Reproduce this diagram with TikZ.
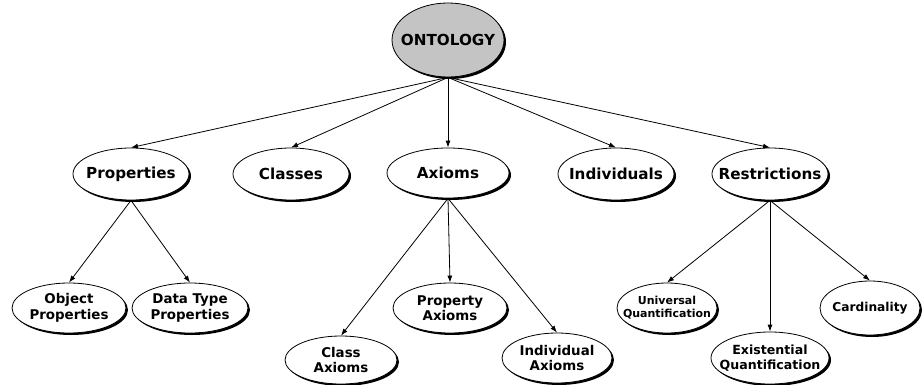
\documentclass[tikz,border=0pt]{standalone}
\usepackage{fontspec}
\setmainfont{DejaVu Sans}
\usetikzlibrary{shapes.geometric,shadows,arrows.meta}

\tikzset{
  concept/.style={ellipse, draw=black, line width=0.8pt, fill=white,
    inner sep=-30pt, align=center, font=\bfseries,
    drop shadow={shadow xshift=2pt, shadow yshift=-2pt, fill=black, opacity=1}},
  ell/.style 2 args={minimum width=#1pt, minimum height=#2pt},
  big/.style={font=\bfseries\fontsize{15.2}{18}\selectfont},
  mid/.style={font=\bfseries\fontsize{13.4}{15.5}\selectfont},
  card/.style={font=\bfseries\fontsize{12.2}{15}\selectfont},
  small/.style={font=\bfseries\fontsize{12.6}{14.5}\selectfont},
  tiny/.style={font=\bfseries\fontsize{11}{13}\selectfont},
  link/.style={draw=black, line width=0.8pt, -{Latex[length=7pt,width=5pt]}}
}

\begin{document}
\begin{tikzpicture}[x=1pt, y=-1pt]
  \useasboundingbox (0,0) rectangle (923,385);

  % root
  \node[concept, ell={112}{74}, big, fill={rgb,255:red,196;green,196;blue,196}] (onto) at (448,40) {ONTOLOGY};

  % second level
  \node[concept, ell={116}{52}, big] (prop) at (131,174) {Properties};
  \node[concept, ell={116}{52}, big] (cls)  at (291,174) {Classes};
  \node[concept, ell={122}{50}, big] (axi)  at (448,173) {Axioms};
  \node[concept, ell={116}{52}, big] (ind)  at (616,174) {Individuals};
  \node[concept, ell={116}{52}, big] (res)  at (770,174) {Restrictions};

  % third level
  \node[concept, ell={114}{50}, mid] (objp)   at (69,308)  {Object\\Properties};
  \node[concept, ell={116}{50}, mid] (dtp)    at (190,308) {Data Type\\Properties};
  \node[concept, ell={112}{48}, mid] (clsax)  at (341,360) {Class\\Axioms};
  \node[concept, ell={114}{50}, mid] (propax) at (450,308) {Property\\Axioms};
  \node[concept, ell={110}{50}, mid] (indax)  at (557,358) {Individual\\Axioms};
  \node[concept, ell={100}{50}, tiny] (uq)    at (667,308) {Universal\\Quantification};
  \node[concept, ell={118}{52}, small] (eq)   at (770,358) {Existential\\Quantification};
  \node[concept, ell={100}{54}, card] (card)  at (870,308) {Cardinality};

  % connectors
  \foreach \t in {prop,cls,axi,ind,res}
    \draw[link] (onto.south) -- (\t.north);
  \foreach \t in {objp,dtp}
    \draw[link] (prop.south) -- (\t.north);
  \foreach \t in {clsax,propax,indax}
    \draw[link] (axi.south) -- (\t.north);
  \foreach \t in {uq,eq,card}
    \draw[link] (res.south) -- (\t.north);
\end{tikzpicture}
\end{document}
